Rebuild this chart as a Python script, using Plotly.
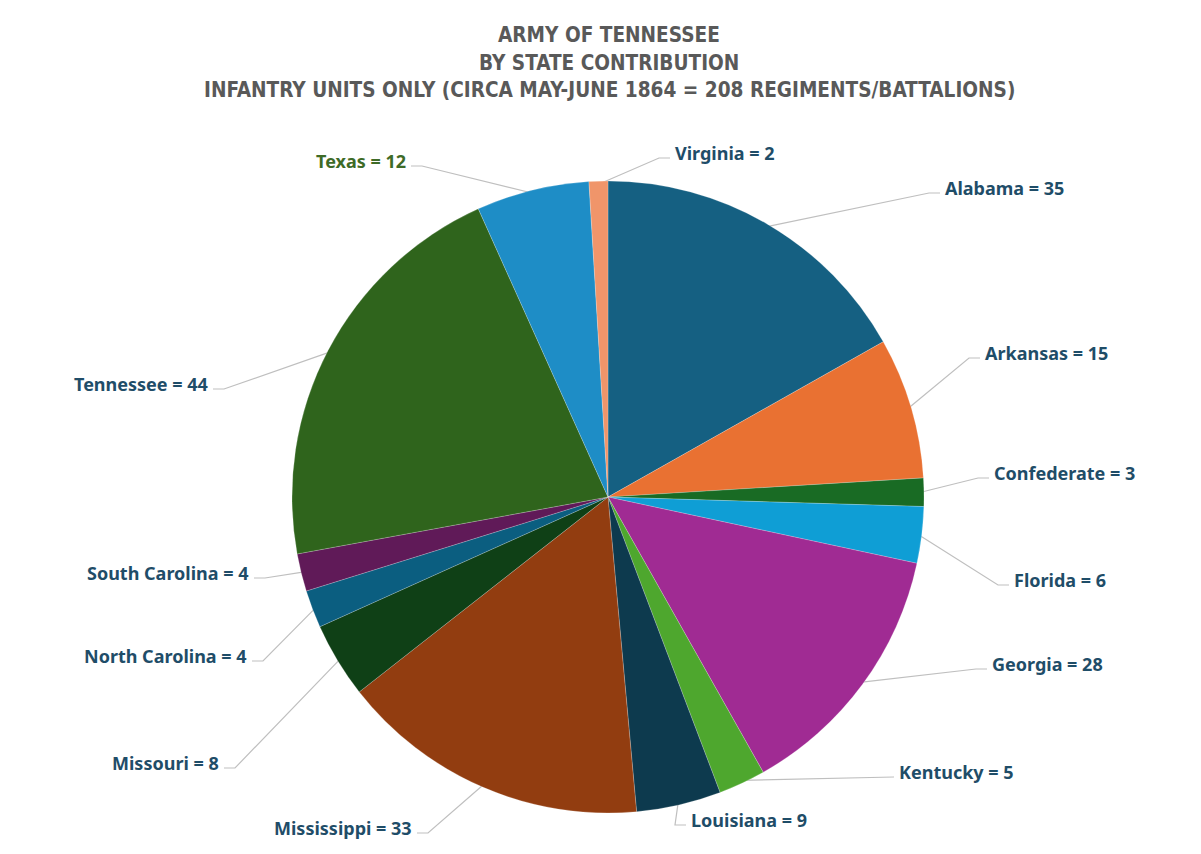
import math
import plotly.graph_objects as go

# ---- data ----
states = ["Alabama", "Arkansas", "Confederate", "Florida", "Georgia", "Kentucky",
          "Louisiana", "Mississippi", "Missouri", "North Carolina", "South Carolina",
          "Tennessee", "Texas", "Virginia"]
units = [35, 15, 3, 6, 28, 5, 9, 33, 8, 4, 4, 44, 12, 2]

# ---- styles / layout ----
colors = ["#156082", "#E97132", "#196B24", "#0F9ED5", "#A02B93", "#4EA72E",
          "#0D3A4E", "#923D10", "#0F4016", "#0B5E80", "#601A58", "#2F641C",
          "#1E8DC6", "#F0956A"]
label_colors = {"Texas": "#3E6B27"}
default_label_color = "#1F4D68"
# label anchor (x edge, y center) in pixel coords and side
label_pos = {
    "Virginia": (673, 153, "left"), "Alabama": (943, 188, "left"),
    "Arkansas": (983, 353, "left"), "Confederate": (992, 473, "left"),
    "Florida": (1012, 580, "left"), "Georgia": (990, 664, "left"),
    "Kentucky": (897, 772, "left"), "Louisiana": (689, 820, "left"),
    "Texas": (408, 161, "right"), "Tennessee": (210, 384, "right"),
    "South Carolina": (251, 573, "right"), "North Carolina": (249, 656, "right"),
    "Missouri": (221, 763, "right"), "Mississippi": (414, 828, "right"),
}

W, H = 1201, 854
cx, cy, R = 608, 497, 316

fig = go.Figure()
fig.add_trace(go.Pie(
    labels=states, values=units, sort=False, direction="clockwise", rotation=0,
    marker=dict(colors=colors, line=dict(color="rgba(255,255,255,0.4)", width=0.5)),
    textinfo="none", hoverinfo="label+value", showlegend=False,
    domain=dict(x=[(cx - R) / W, (cx + R) / W], y=[(H - cy - R) / H, (H - cy + R) / H]),
))

total = sum(units)
cum = 0
annotations = []
for s, v in zip(states, units):
    mid = (cum + v / 2) / total * 2 * math.pi
    cum += v
    tx = cx + R * 0.99 * math.sin(mid)
    ty = cy - R * 0.99 * math.cos(mid)
    lx, ly, side = label_pos[s]
    ey = ly + 5
    if side == "left":
        xs = [tx, lx - 14, lx - 3]
    else:
        xs = [tx, lx + 14, lx + 3]
    fig.add_trace(go.Scatter(x=xs, y=[ty, ey, ey], mode="lines",
                             line=dict(color="#BFBFBF", width=1.2),
                             hoverinfo="skip", showlegend=False))
    annotations.append(dict(
        x=lx, y=ly, xref="x", yref="y", text=f"{s} = {v}", showarrow=False,
        xanchor=side, yanchor="middle",
        font=dict(family="Noto Sans, Open Sans, sans-serif", size=18,
                  color=label_colors.get(s, default_label_color), weight="bold"),
    ))

title_lines = ["ARMY OF TENNESSEE", "BY STATE CONTRIBUTION",
               "INFANTRY UNITS ONLY (CIRCA MAY-JUNE 1864 = 208 REGIMENTS/BATTALIONS)"]
for i, t in enumerate(title_lines):
    annotations.append(dict(
        x=609, y=35 + i * 27.5, xref="x", yref="y", text=t, showarrow=False,
        xanchor="center", yanchor="middle",
        font=dict(family="Liberation Sans Narrow, DejaVu Sans Condensed, sans-serif",
                  size=20.6, color="#595959", weight="bold"),
    ))

fig.update_layout(
    width=W, height=H, margin=dict(l=0, r=0, t=0, b=0),
    paper_bgcolor="white", plot_bgcolor="rgba(0,0,0,0)",
    xaxis=dict(range=[0, W], visible=False, fixedrange=True),
    yaxis=dict(range=[H, 0], visible=False, fixedrange=True),
    annotations=annotations,
)

fig.write_html("out.html", config={"displayModeBar": False},
               post_script="document.body.style.margin='0';document.body.style.overflow='hidden';")
